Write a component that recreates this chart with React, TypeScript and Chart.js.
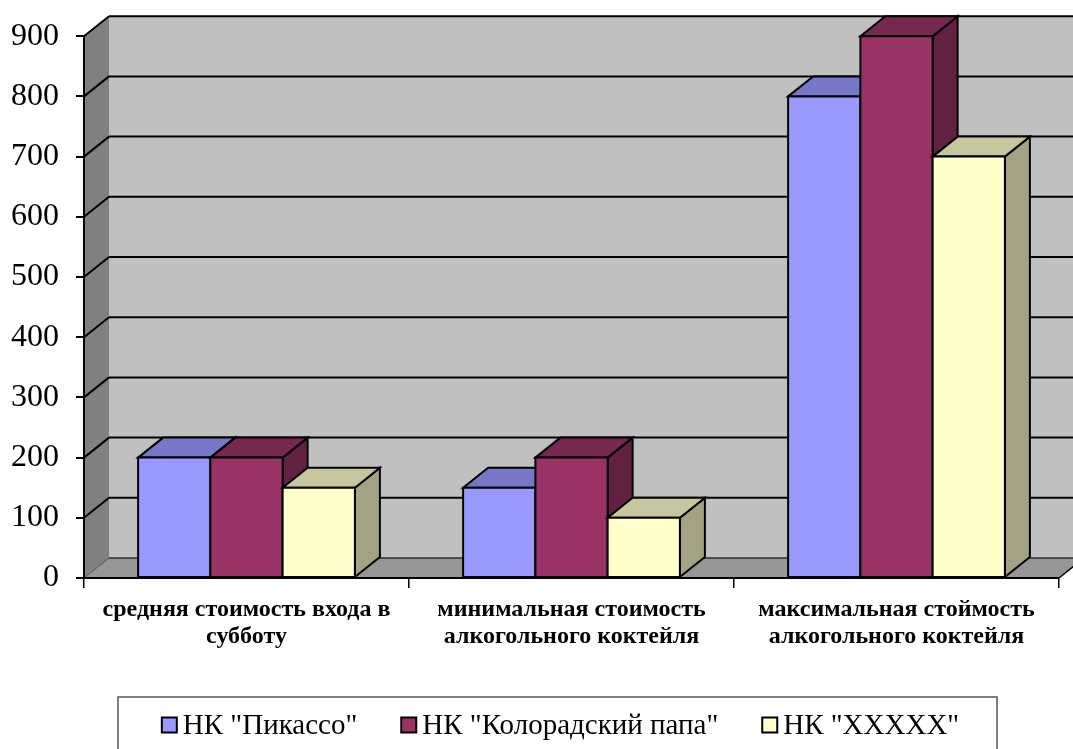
import { useEffect, useRef } from 'react';
import { Chart, registerables } from 'chart.js';

Chart.register(...registerables);

// Categories (multi-line axis labels)
const categories: string[][] = [
  ['средняя стоимость входа в', 'субботу'],
  ['минимальная стоимость', 'алкогольного коктейля'],
  ['максимальная стоймость', 'алкогольного коктейля'],
];

// Series
const seriesNames = ['НК "Пикассо"', 'НК "Колорадский папа"', 'НК "XXXXX"'];
const picassoValues = [200, 150, 800];
const papaValues = [200, 200, 900];
const xxxxxValues = [150, 100, 700];
const seriesColors = ['#9999FF', '#993366', '#FFFFCC'];

// Value axis
const yMin = 0;
const yMax = 900;
const yStep = 100;

const FONT = "'Liberation Serif', 'Times New Roman', serif";

// 3D depth offset of walls and bars
const DX = 25;
const DY = -20;

function shade(hex: string, k: number): string {
  const n = parseInt(hex.slice(1), 16);
  const r = Math.round(((n >> 16) & 255) * k);
  const g = Math.round(((n >> 8) & 255) * k);
  const b = Math.round((n & 255) * k);
  return `rgb(${r},${g},${b})`;
}

function poly(ctx: CanvasRenderingContext2D, pts: number[][], fill?: string, stroke?: string, lw = 2) {
  ctx.beginPath();
  ctx.moveTo(pts[0][0], pts[0][1]);
  for (let i = 1; i < pts.length; i++) ctx.lineTo(pts[i][0], pts[i][1]);
  ctx.closePath();
  if (fill) {
    ctx.fillStyle = fill;
    ctx.fill();
  }
  if (stroke) {
    ctx.strokeStyle = stroke;
    ctx.lineWidth = lw;
    ctx.stroke();
  }
}

// Back wall, side wall, floor and gridlines of the 3D box
const wallsPlugin = {
  id: 'walls3d',
  beforeDraw(chart: any) {
    const { ctx, chartArea: a, scales } = chart;
    const ys = scales.y;
    ctx.save();
    ctx.fillStyle = '#C0C0C0';
    ctx.fillRect(a.left + DX, a.top + DY, a.right - a.left, a.bottom - a.top);
    poly(ctx, [[a.left, a.top], [a.left + DX, a.top + DY], [a.left + DX, a.bottom + DY], [a.left, a.bottom]], '#808080');
    poly(ctx, [[a.left, a.bottom], [a.left + DX, a.bottom + DY], [a.right + DX, a.bottom + DY], [a.right, a.bottom]], '#969696');
    // right edge of the floor
    ctx.beginPath();
    ctx.moveTo(a.right, a.bottom);
    ctx.lineTo(a.right + DX, a.bottom + DY);
    ctx.strokeStyle = '#000';
    ctx.lineWidth = 1.5;
    ctx.stroke();

    ys.ticks.forEach((t: any) => {
      const py = ys.getPixelForValue(t.value);
      const isBase = t.value === yMin;
      ctx.beginPath();
      ctx.moveTo(a.left, py);
      ctx.lineTo(a.left + DX, py + DY);
      ctx.strokeStyle = isBase ? '#505050' : '#000';
      ctx.lineWidth = isBase ? 1 : 2;
      ctx.stroke();
      ctx.beginPath();
      ctx.moveTo(a.left + DX, py + DY);
      ctx.lineTo(a.right + DX + 20, py + DY);
      ctx.strokeStyle = isBase ? '#303030' : '#000';
      ctx.lineWidth = isBase ? 1.5 : 2;
      ctx.stroke();
    });
    ctx.restore();
  },
};

// Bars with top and side faces, drawn left to right so nearer faces overlap correctly
const bars3dPlugin = {
  id: 'bars3d',
  afterDatasetsDraw(chart: any) {
    const { ctx } = chart;
    const nCats = chart.data.labels.length;
    const nSets = chart.data.datasets.length;
    ctx.save();
    ctx.lineJoin = 'miter';
    for (let i = 0; i < nCats; i++) {
      for (let d = 0; d < nSets; d++) {
        const el = chart.getDatasetMeta(d).data[i];
        if (!el) continue;
        const { x, y, base, width } = el.getProps(['x', 'y', 'base', 'width'], true);
        const x0 = x - width / 2;
        const x1 = x + width / 2;
        const color = chart.data.datasets[d].backgroundColor as string;
        poly(ctx, [[x1, y], [x1 + DX, y + DY], [x1 + DX, base + DY], [x1, base]], shade(color, 0.64), '#000', 2);
        poly(ctx, [[x0, y], [x0 + DX, y + DY], [x1 + DX, y + DY], [x1, y]], shade(color, 0.78), '#000', 2);
        poly(ctx, [[x0, y], [x1, y], [x1, base], [x0, base]], color, '#000', 2);
      }
    }
    ctx.restore();
  },
};

// Boxed legend below the plot
const legendPlugin = {
  id: 'boxedLegend',
  afterDraw(chart: any) {
    const { ctx } = chart;
    const boxLeft = 118;
    const boxRight = 997;
    const boxTop = 697;
    const midY = 725;
    const marker = 15;
    const textGap = 6;
    const itemGap = 44;
    ctx.save();
    ctx.strokeStyle = '#555';
    ctx.lineWidth = 1.5;
    ctx.strokeRect(boxLeft, boxTop, boxRight - boxLeft, 80);
    ctx.font = `29px ${FONT}`;
    ctx.textBaseline = 'middle';
    ctx.textAlign = 'left';
    const ds = chart.data.datasets;
    const widths = ds.map((s: any) => marker + textGap + ctx.measureText(s.label).width);
    const total = widths.reduce((p: number, w: number) => p + w, 0) + itemGap * (ds.length - 1);
    let x = (boxLeft + boxRight) / 2 + 3 - total / 2;
    ds.forEach((s: any, k: number) => {
      ctx.fillStyle = s.backgroundColor;
      ctx.fillRect(x, midY - marker / 2, marker, marker);
      ctx.strokeStyle = '#000';
      ctx.lineWidth = 2;
      ctx.strokeRect(x, midY - marker / 2, marker, marker);
      ctx.fillStyle = '#000';
      ctx.fillText(s.label, x + marker + textGap, midY + 1);
      x += widths[k] + itemGap;
    });
    ctx.restore();
  },
};

export default function App() {
  const canvasRef = useRef<HTMLCanvasElement>(null);

  useEffect(() => {
    const canvas = canvasRef.current;
    if (!canvas) return;
    const seriesValues = [picassoValues, papaValues, xxxxxValues];
    const chart = new Chart(canvas, {
      type: 'bar',
      data: {
        labels: categories,
        datasets: seriesNames.map((name, k) => ({
          label: name,
          data: seriesValues[k],
          backgroundColor: seriesColors[k],
          borderWidth: 0,
          categoryPercentage: 0.667,
          barPercentage: 1,
        })),
      },
      options: {
        responsive: false,
        animation: false,
        devicePixelRatio: 1,
        layout: { padding: { top: 33, right: 14, bottom: 91, left: 0 } },
        plugins: {
          legend: { display: false },
          tooltip: { enabled: false },
        },
        scales: {
          x: {
            offset: true,
            grid: {
              offset: true,
              drawOnChartArea: false,
              drawTicks: true,
              tickLength: 10,
              color: '#000',
              lineWidth: 1.5,
            },
            border: { display: true, color: '#000', width: 2 },
            ticks: {
              color: '#000',
              maxRotation: 0,
              autoSkip: false,
              padding: 9,
              font: { family: FONT, size: 24, weight: 'bold', lineHeight: 1.1 },
            },
            afterFit: (scale: any) => {
              scale.height = 80;
            },
          },
          y: {
            min: yMin,
            max: yMax,
            ticks: {
              stepSize: yStep,
              color: '#000',
              padding: 17,
              font: { family: FONT, size: 32 },
            },
            grid: {
              drawOnChartArea: false,
              drawTicks: true,
              tickLength: 8,
              color: '#000',
              lineWidth: 2,
            },
            border: { display: true, color: '#000', width: 2 },
            afterFit: (scale: any) => {
              scale.width = 84;
            },
          },
        },
      },
      plugins: [wallsPlugin, bars3dPlugin, legendPlugin],
    });
    return () => chart.destroy();
  }, []);

  return (
    <div style={{ position: 'fixed', left: 0, top: 0, width: 1073, height: 749, background: '#fff' }}>
      <canvas ref={canvasRef} width={1073} height={749} />
    </div>
  );
}
